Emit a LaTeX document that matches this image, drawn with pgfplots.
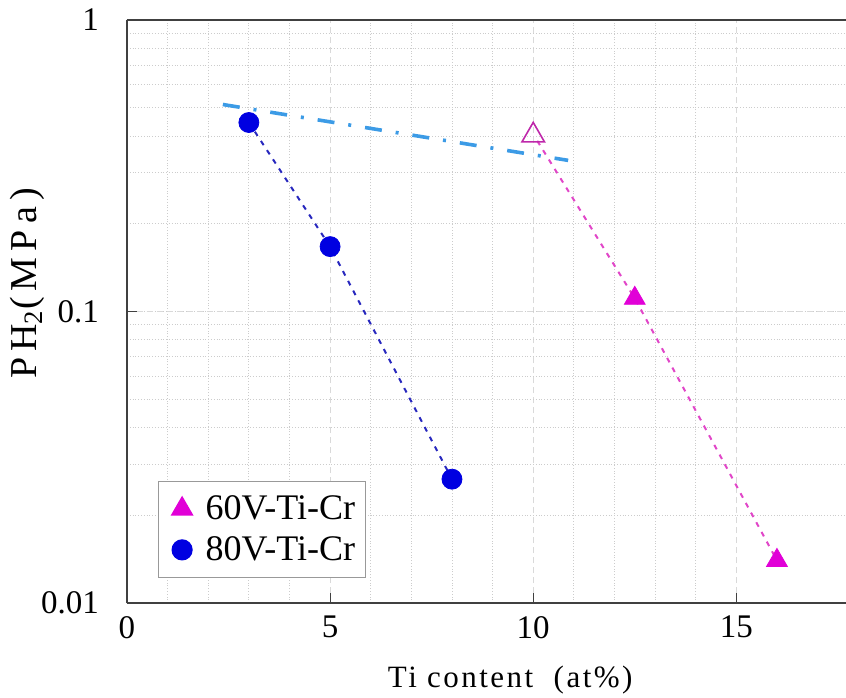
\documentclass[border=0pt]{standalone}
\usepackage{fontspec}
\setmainfont{Liberation Serif}
\usepackage{pgfplots}
\pgfplotsset{compat=1.18}
\usetikzlibrary{calc}
\definecolor{magA}{RGB}{225,0,215}
\definecolor{magL}{RGB}{225,70,200}
\definecolor{magO}{RGB}{190,40,170}
\definecolor{blueA}{RGB}{0,0,225}
\definecolor{blueL}{RGB}{40,40,190}
\definecolor{ltblue}{RGB}{60,155,230}
\begin{document}
\begin{tikzpicture}
\begin{axis}[
  scale only axis, width=359.5pt, height=291.5pt,
  ymode=log, xmin=0, xmax=17.7, ymin=0.01, ymax=1,
  axis x line=box, axis y line*=left,
  xtick={0,5,10,15}, minor x tick num=4,
  xtick pos=lower, ytick pos=left,
  log ticks with fixed point,
  /pgf/number format/assume math mode=true,
  grid=both,
  major grid style={densely dashed, gray!30, line width=0.4pt},
  minor grid style={densely dotted, gray!40, line width=0.4pt},
  tick align=inside, major tick length=5pt, minor tick length=0pt,
  axis line style={line width=1pt, black!75},
  tick style={black!75, line width=0.6pt},
  tick label style={font=\fontsize{16.5}{18}\selectfont},
  yticklabel style={xshift=-10.5pt},
  xticklabel style={yshift=-3pt},
  xlabel={Ti content\ \ (at\%)},
  ylabel={PH\textsubscript{2}(MPa)},
  xlabel style={at={(axis description cs:0.533,-0.132)}, anchor=center, font=\fontsize{15.5}{18}\selectfont\addfontfeature{LetterSpace=8}},
  ylabel style={at={(axis description cs:-0.138,0.548)}, anchor=center, font=\fontsize{19}{21}\selectfont\addfontfeature{LetterSpace=16}},
  legend style={at={(0.043,0.043)}, anchor=south west, draw=gray!80, line width=0.6pt,
    font=\fontsize{18}{20}\selectfont, inner xsep=3pt, inner ysep=5pt, row sep=3pt,
    cells={anchor=west}, nodes={inner sep=2pt}},
  legend image code/.code={\path (0pt,0pt) (18pt,0pt); \draw[#1] plot coordinates {(8.5pt,0pt)};},
]
% fitted / guide lines
\addplot[forget plot, ltblue, line width=1.8pt, dash pattern=on 8.5pt off 7pt on 1.5pt off 7pt] coordinates {(2.36,0.513) (10.86,0.330)};
\addplot[forget plot, blueL, line width=1pt, dash pattern=on 2.5pt off 3pt] coordinates {(3,0.445) (5,0.167) (8,0.0266)};
\addplot[forget plot, magL, line width=1pt, dash pattern=on 2.5pt off 3pt] coordinates {(10.1,0.385) (12.5,0.111) (16,0.0140)};
% open triangle
\addplot[forget plot, only marks, mark=triangle, mark size=6.5pt, mark options={draw=magO, fill=white, line width=0.8pt}] coordinates {(10,0.402)};
% data
\addplot[only marks, mark=triangle*, mark size=6pt, mark options={draw=magA, fill=magA}] coordinates {(12.5,0.111) (16,0.0140)};
\addlegendentry{60V-Ti-Cr}
\addplot[only marks, mark=*, mark size=5pt, mark options={draw=blueA, fill=blueA}] coordinates {(3,0.445) (5,0.167) (8,0.0266)};
\addlegendentry{80V-Ti-Cr}
\end{axis}
\pgfresetboundingbox
\path ($(current axis.south west)+(-63.5pt,-47pt)$) rectangle ($(current axis.north east)+(0pt,10pt)$);
\end{tikzpicture}
\end{document}
